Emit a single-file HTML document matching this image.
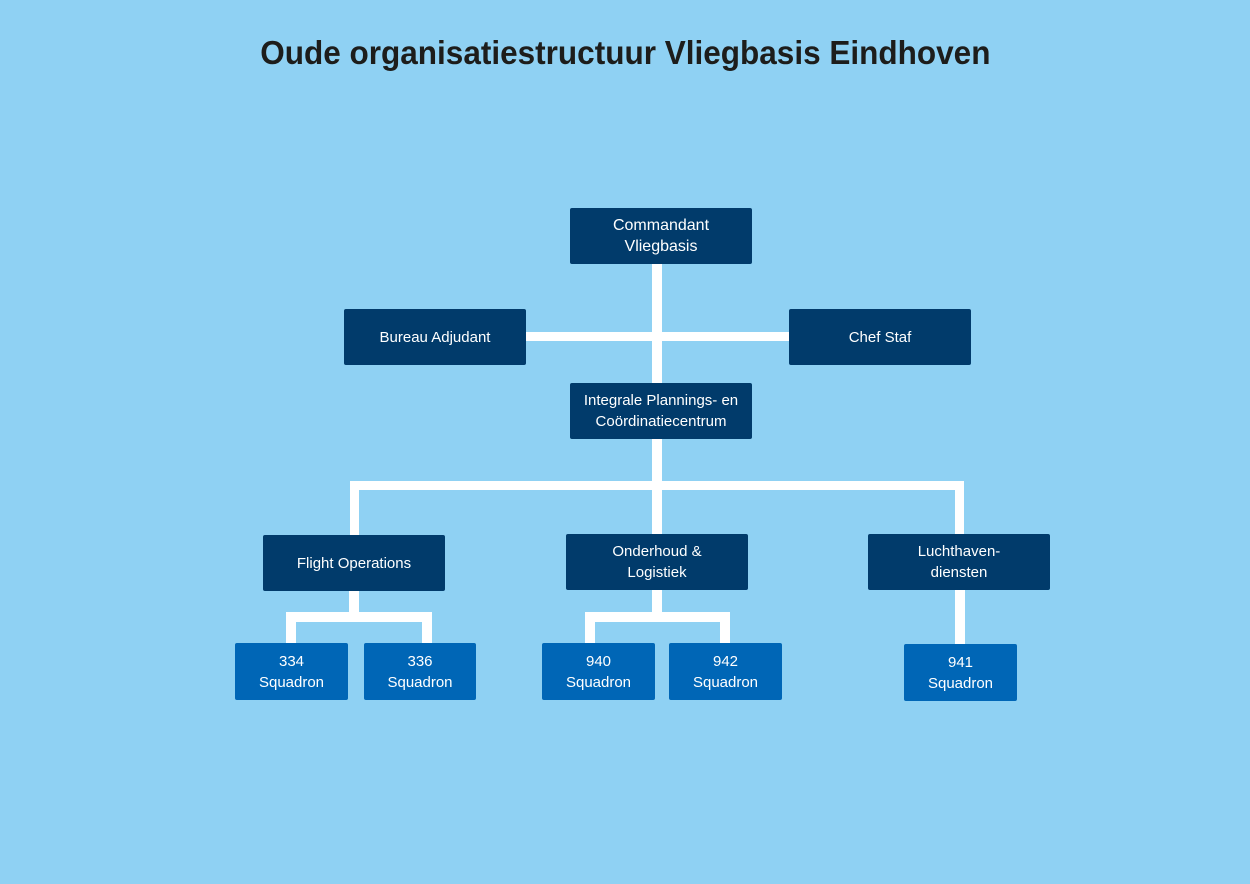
<!DOCTYPE html>
<html><head><meta charset="utf-8"><style>
body{margin:0;width:1250px;height:884px;background:#8fd1f3;position:relative;overflow:hidden;font-family:"Liberation Sans","DejaVu Sans",sans-serif}
.t{position:absolute;left:0;width:1250px;top:34px;text-align:center;font-weight:bold;font-size:33px;color:#1d1d1b}
.t span{display:inline-block;transform:scaleX(0.955)}
.b{position:absolute;display:flex;align-items:center;justify-content:center;text-align:center;color:#fff;font-size:15px;line-height:21px;border-radius:2px;background:#013b6b}
.s{background:#0066b6}
.l{position:absolute;background:#fff}
</style></head><body>
<div class="t"><span>Oude organisatiestructuur Vliegbasis Eindhoven</span></div>

<div class="l" style="left:652px;top:262px;width:10px;height:123px"></div>
<div class="l" style="left:524px;top:332px;width:267px;height:9px"></div>
<div class="l" style="left:652px;top:437px;width:10px;height:50px"></div>
<div class="l" style="left:350px;top:481px;width:614px;height:9px"></div>
<div class="l" style="left:350px;top:481px;width:9px;height:56px"></div>
<div class="l" style="left:955px;top:481px;width:9px;height:55px"></div>
<div class="l" style="left:652px;top:481px;width:10px;height:55px"></div>

<div class="l" style="left:349px;top:589px;width:10px;height:26px"></div>
<div class="l" style="left:286px;top:612px;width:146px;height:10px"></div>
<div class="l" style="left:286px;top:612px;width:10px;height:33px"></div>
<div class="l" style="left:422px;top:612px;width:10px;height:33px"></div>

<div class="l" style="left:652px;top:588px;width:10px;height:26px"></div>
<div class="l" style="left:585px;top:612px;width:145px;height:10px"></div>
<div class="l" style="left:585px;top:612px;width:10px;height:33px"></div>
<div class="l" style="left:720px;top:612px;width:10px;height:33px"></div>

<div class="l" style="left:955px;top:588px;width:10px;height:58px"></div>

<div class="b" style="left:570px;top:208px;width:182px;height:56px;font-size:16px">Commandant<br>Vliegbasis</div>
<div class="b" style="left:344px;top:309px;width:182px;height:56px">Bureau Adjudant</div>
<div class="b" style="left:789px;top:309px;width:182px;height:56px">Chef Staf</div>
<div class="b" style="left:570px;top:383px;width:182px;height:56px">Integrale Plannings- en<br>Coördinatiecentrum</div>
<div class="b" style="left:263px;top:535px;width:182px;height:56px">Flight Operations</div>
<div class="b" style="left:566px;top:534px;width:182px;height:56px">Onderhoud &amp;<br>Logistiek</div>
<div class="b" style="left:868px;top:534px;width:182px;height:56px">Luchthaven-<br>diensten</div>
<div class="b s" style="left:235px;top:643px;width:113px;height:57px">334<br>Squadron</div>
<div class="b s" style="left:364px;top:643px;width:112px;height:57px">336<br>Squadron</div>
<div class="b s" style="left:542px;top:643px;width:113px;height:57px">940<br>Squadron</div>
<div class="b s" style="left:669px;top:643px;width:113px;height:57px">942<br>Squadron</div>
<div class="b s" style="left:904px;top:644px;width:113px;height:57px">941<br>Squadron</div>
</body></html>
